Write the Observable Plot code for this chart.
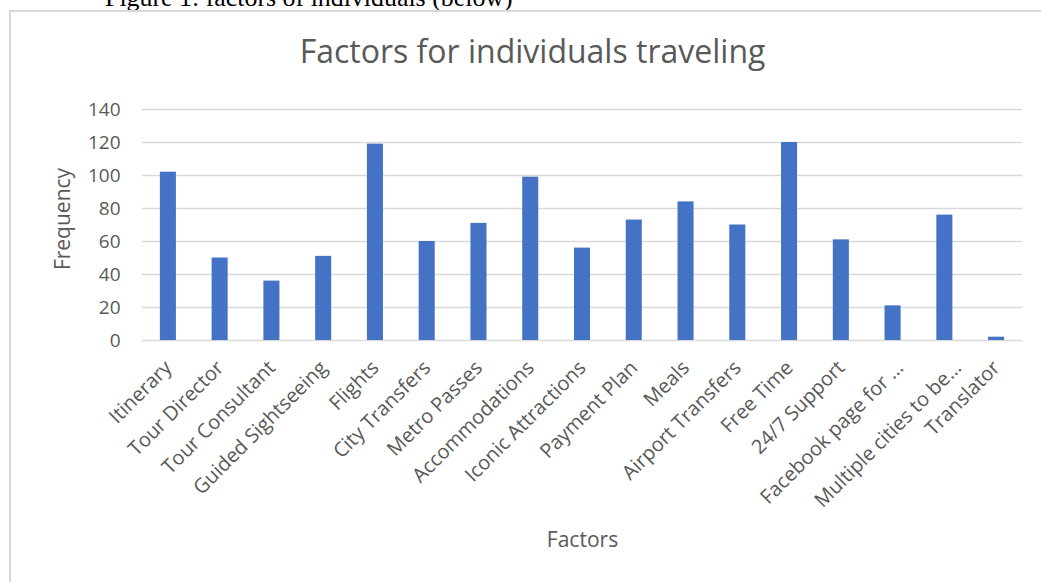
<!DOCTYPE html>
<html>
<head>
<meta charset="utf-8">
<script src="https://cdn.jsdelivr.net/npm/d3@7"></script>
<script src="https://cdn.jsdelivr.net/npm/@observablehq/plot@0.6"></script>
<style>
  html, body { margin: 0; padding: 0; background: #fff; overflow: hidden; }
  #page { position: relative; width: 1041px; height: 582px; overflow: hidden; }
  #cap { position: absolute; left: 105px; top: -14.7px; font-family: "Liberation Serif", "Times New Roman", serif; font-size: 25.9px; line-height: 25.9px; color: #000; white-space: nowrap; }
  #frame { position: absolute; left: 9px; top: 10px; width: 1100px; height: 700px; border: 2px solid #d9d9d9; box-sizing: border-box; }
  #title { position: absolute; left: 0; width: 1065px; top: 35px; text-align: center; font-family: "Open Sans", sans-serif; font-size: 32px; line-height: 32px; color: #595959; white-space: nowrap; }
  #chart { position: absolute; left: 0; top: 0; }
</style>
</head>
<body>
<div id="page">
  <div id="cap">Figure 1: factors of individuals (below)</div>
  <div id="frame"></div>
  <div id="title">Factors for individuals traveling</div>
  <div id="chart"></div>
</div>
<script>
const factors = ["Itinerary", "Tour Director", "Tour Consultant", "Guided Sightseeing", "Flights", "City Transfers", "Metro Passes", "Accommodations", "Iconic Attractions", "Payment Plan", "Meals", "Airport Transfers", "Free Time", "24/7 Support", "Facebook page for …", "Multiple cities to be…", "Translator"];
const frequency = [102, 50, 36, 51, 119, 60, 71, 99, 56, 73, 84, 70, 120, 61, 21, 76, 2];
const yTicks = [0, 20, 40, 60, 80, 100, 120, 140];
const xTitle = "Factors";
const yTitle = "Frequency";

const data = factors.map((f, i) => ({factor: f, value: frequency[i]}));
const truncA = ["Facebook page for …"];
const truncB = ["Multiple cities to be…"];
const plainLabels = factors.filter(f => !truncA.includes(f) && !truncB.includes(f));

const xAxisOpts = {tickSize: 0, tickPadding: 24, tickRotate: -45, fontSize: 20, label: null};

const chart = Plot.plot({
  width: 1041,
  height: 582,
  marginLeft: 142,
  marginRight: 19,
  marginTop: 109,
  marginBottom: 242,
  style: {fontFamily: "Open Sans, sans-serif", fontSize: "19px", color: "#595959", background: "transparent"},
  x: {type: "band", domain: factors, paddingInner: 0.69, paddingOuter: 0.345, align: 0.5, round: false},
  y: {domain: [0, 140]},
  marks: [
    Plot.gridY(yTicks, {stroke: "#d9d9d9", strokeOpacity: 1, strokeWidth: 1.3}),
    Plot.barY(data, {x: "factor", y: "value", fill: "#4472C4"}),
    Plot.axisY(yTicks, {tickSize: 0, tickPadding: 22, fontSize: 19, label: null}),
    Plot.axisX(plainLabels, xAxisOpts),
    Plot.axisX(truncA, {...xAxisOpts, dx: 7}),
    Plot.axisX(truncB, {...xAxisOpts, dx: 13}),
    Plot.text([xTitle], {text: d => d, frameAnchor: "bottom", dy: 206, fontSize: 21, fill: "#595959"}),
    Plot.text([yTitle], {text: d => d, frameAnchor: "left", textAnchor: "middle", rotate: -90, dx: -79, dy: -6, fontSize: 21, fill: "#595959"})
  ]
});
document.getElementById("chart").appendChild(chart);
</script>
</body>
</html>
